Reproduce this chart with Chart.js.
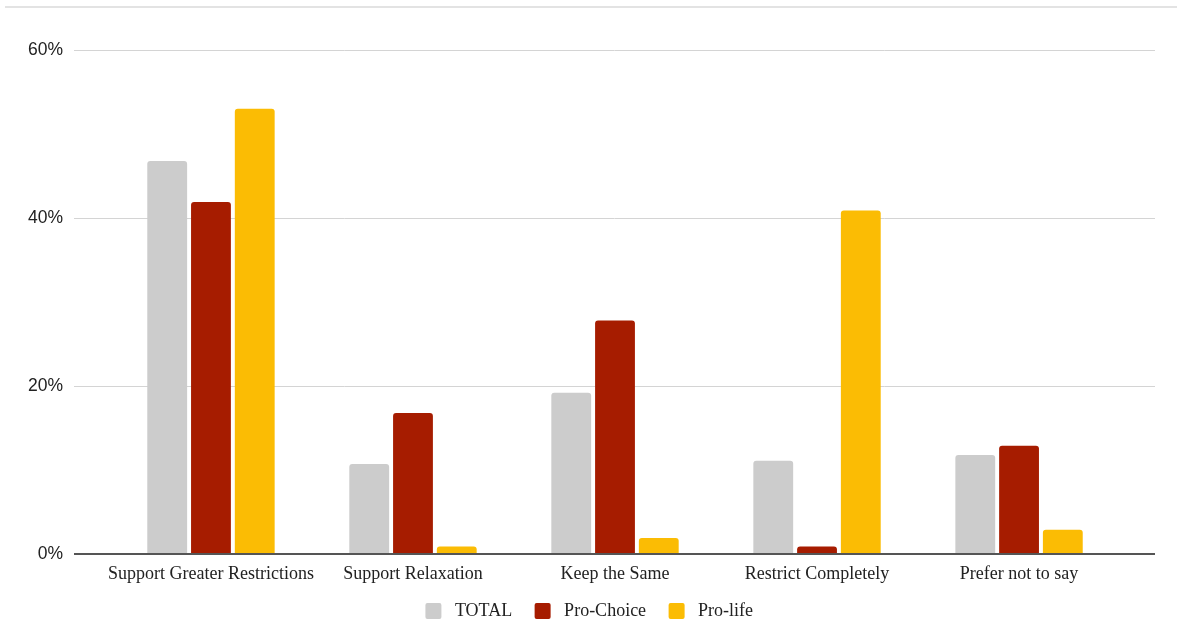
<!DOCTYPE html>
<html>
<head>
<meta charset="utf-8">
<script src="https://cdn.jsdelivr.net/npm/chart.js@4/dist/chart.umd.min.js"></script>
<style>
  html, body { margin: 0; padding: 0; background: #fff; }
  #wrap { position: relative; width: 1177px; height: 630px; }
  #rule { position: absolute; left: 5px; right: 0; top: 6px; height: 2px; background: #e3e3e3; }
  canvas { position: absolute; left: 0; top: 0; }
</style>
</head>
<body>
<div id="wrap">
  <div id="rule"></div>
  <canvas id="c" width="1177" height="630"></canvas>
</div>
<script>
// Survey responses by group (percent)
const categories = ['Support Greater Restrictions', 'Support Relaxation', 'Keep the Same', 'Restrict Completely', 'Prefer not to say'];
const totalValues = [46.8, 10.7, 19.2, 11.1, 11.8];
const proChoiceValues = [41.9, 16.8, 27.8, 0.9, 12.9];
const proLifeValues = [53.0, 0.9, 1.9, 40.9, 2.9];
const yTicks = [0, 20, 40, 60];

const toPoints = vals => vals.map((v, i) => ({ x: i, y: v }));

const serif = "'Liberation Serif', 'Times New Roman', serif";
const sans = "'Liberation Sans', Arial, sans-serif";

new Chart(document.getElementById('c'), {
  type: 'bar',
  data: {
    datasets: [
      { label: 'TOTAL', data: toPoints(totalValues), backgroundColor: '#cccccc' },
      { label: 'Pro-Choice', data: toPoints(proChoiceValues), backgroundColor: '#a61c00' },
      { label: 'Pro-life', data: toPoints(proLifeValues), backgroundColor: '#fbbc04' }
    ]
  },
  options: {
    responsive: false,
    animation: false,
    layout: { padding: { top: 50, right: 22, left: 28, bottom: 0 } },
    datasets: {
      bar: {
        categoryPercentage: 0.65,
        barPercentage: 0.91,
        borderRadius: { topLeft: 3, topRight: 3 },
        borderSkipped: 'bottom'
      }
    },
    scales: {
      x: {
        type: 'linear',
        offset: false,
        min: -0.678,
        max: 4.673,
        afterBuildTicks: scale => { scale.ticks = categories.map((_, i) => ({ value: i })); },
        afterFit: scale => { scale.height = 30; },
        grid: { display: false },
        border: { display: false },
        ticks: {
          autoSkip: false,
          maxRotation: 0,
          padding: 1,
          color: '#222',
          font: { family: serif, size: 18 },
          callback: v => categories[v] ?? ''
        }
      },
      y: {
        min: 0,
        max: 60,
        afterBuildTicks: scale => { scale.ticks = yTicks.map(v => ({ value: v })); },
        afterFit: scale => { scale.width = 46; },
        border: { display: false },
        grid: {
          drawTicks: false,
          color: ctx => ctx.tick && ctx.tick.value === 0 ? '#555' : '#d4d4d4',
          lineWidth: ctx => ctx.tick && ctx.tick.value === 0 ? 2 : 1
        },
        ticks: {
          padding: 11,
          color: '#222',
          font: { family: sans, size: 17.5 },
          callback: v => v + '%'
        }
      }
    },
    plugins: {
      tooltip: { enabled: false },
      legend: {
        position: 'bottom',
        labels: {
          boxWidth: 16,
          boxHeight: 16,
          useBorderRadius: true,
          borderRadius: 2,
          padding: 18,
          color: '#222',
          font: { family: serif, size: 18 },
          generateLabels: chart => Chart.defaults.plugins.legend.labels.generateLabels(chart)
            .map(item => Object.assign(item, { text: ' ' + item.text + ' ' }))
        }
      }
    }
  }
});
</script>
</body>
</html>
